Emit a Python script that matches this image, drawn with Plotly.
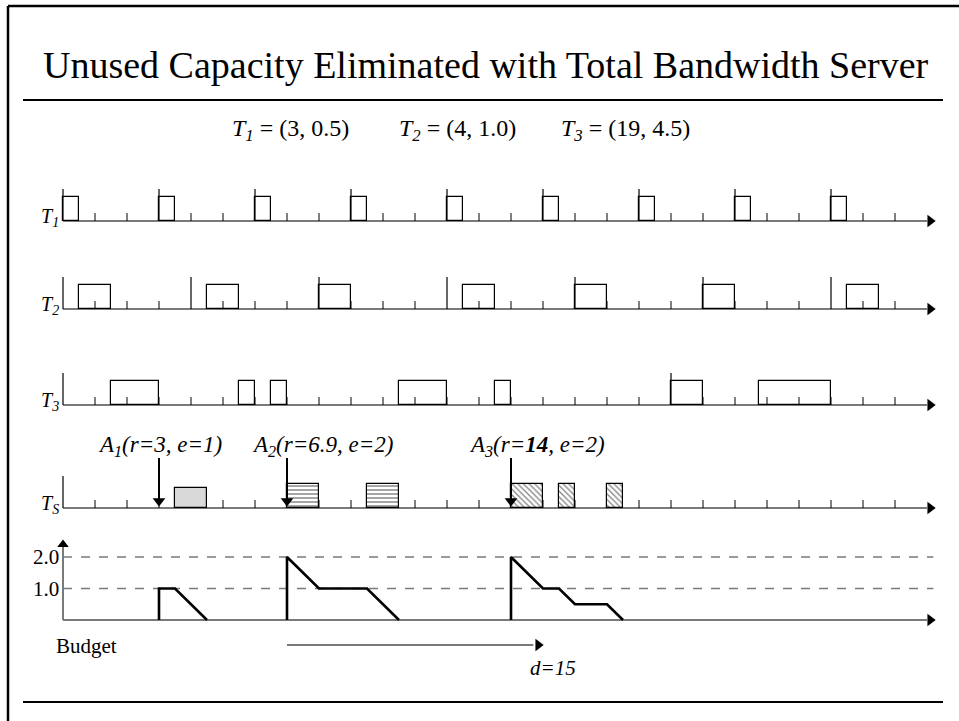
import plotly.graph_objects as go

# ---------------- data ----------------
task_names = ["T1", "T2", "T3"]
task_periods = [3, 4, 19]
task_costs = [0.5, 1.0, 4.5]

t1_release = [0, 3, 6, 9, 12, 15, 18, 21, 24]
t1_start = [0, 3, 6, 9, 12, 15, 18, 21, 24]
t1_end = [0.5, 3.5, 6.5, 9.5, 12.5, 15.5, 18.5, 21.5, 24.5]

t2_release = [0, 4, 8, 12, 16, 20, 24]
t2_start = [0.5, 4.5, 8, 12.5, 16, 20, 24.5]
t2_end = [1.5, 5.5, 9, 13.5, 17, 21, 25.5]

t3_release = [0, 19]
t3_start = [1.5, 5.5, 6.5, 10.5, 13.5, 19, 21.75]
t3_end = [3, 6, 7, 12, 14, 20, 24]

ts_release = [0]
aper_names = ["A1", "A2", "A3"]
aper_r_text = ["3", "6.9", "14"]
aper_e = [1, 2, 2]
aper_arrival = [3, 7, 14]
a1_start, a1_end = [3.5], [4.5]
a2_start, a2_end = [7, 9.5], [8, 10.5]
a3_start, a3_end = [14, 15.5, 17], [15, 16, 17.5]

budget_t = [[3, 3, 3.5, 4.5], [7, 7, 8, 9.5, 10.5], [14, 14, 15, 15.5, 16, 17, 17.5]]
budget_v = [[0, 1, 1, 0], [0, 2, 1, 1, 0], [0, 2, 1, 1, 0.5, 0.5, 0]]
budget_levels = [1.0, 2.0]
deadline_from, deadline_to = 7, 15
t_max = 26

# ---------------- layout constants ----------------
W, H = 959, 721
X0, U = 63, 32          # pixel of t=0, pixels per time unit
ROW_Y = {"T1": 221, "T2": 309, "T3": 405, "TS": 508}
BUD_Y0, BUD_U = 620, 31.5
AX_END = 27.0
GRAY = "#7a7a7a"
SERIF = "Liberation Serif"


def tx(px):
    return (px - X0) / U


fig = go.Figure()
shapes = []
annotations = []


def hline(x0, x1, y, color=GRAY, width=2, dash=None, yref="y", layer="below"):
    shapes.append(dict(type="line", xref="x", yref=yref, x0=x0, x1=x1, y0=y, y1=y,
                       line=dict(color=color, width=width, dash=dash), layer=layer))


def vline(x, y0, y1, color="black", width=1, yref="y", layer="below"):
    shapes.append(dict(type="line", xref="x", yref=yref, x0=x, x1=x, y0=y0, y1=y1,
                       line=dict(color=color, width=width), layer=layer))


arrow_x, arrow_y, arrow_sym = [], [], []


def timeline(row, releases):
    y = ROW_Y[row]
    hline(0, AX_END, y)
    for t in range(0, t_max + 1):
        if t in releases:
            vline(t, y, y - 32, color="black", width=1.2)
        else:
            vline(t, y, y - 8, color="black", width=1)
    arrow_x.append(AX_END + 0.1)
    arrow_y.append(y)
    arrow_sym.append("triangle-right")


timeline("T1", t1_release)
timeline("T2", t2_release)
timeline("T3", t3_release)
timeline("TS", ts_release)


def boxes(starts, ends, row, h, fill="rgba(0,0,0,0)", pattern=None):
    y = ROW_Y[row]
    marker = dict(color=fill, line=dict(color="black", width=1.2))
    if pattern:
        marker["pattern"] = pattern
    fig.add_trace(go.Bar(
        x=[(s + e) / 2 for s, e in zip(starts, ends)],
        width=[e - s for s, e in zip(starts, ends)],
        base=[y] * len(starts), y=[-h] * len(starts),
        marker=marker, hoverinfo="skip", showlegend=False))


boxes(t1_start, t1_end, "T1", 24)
boxes(t2_start, t2_end, "T2", 24)
boxes(t3_start, t3_end, "T3", 24)
boxes(a1_start, a1_end, "TS", 20, fill="#d9d9d9")
boxes(a2_start, a2_end, "TS", 24, fill="white",
      pattern=dict(shape="-", fgcolor="black", bgcolor="white", size=4, solidity=0.35))
boxes(a3_start, a3_end, "TS", 24, fill="white",
      pattern=dict(shape="\\", fgcolor="black", bgcolor="white", size=4, solidity=0.3))

# arrival arrows
for r in aper_arrival:
    fig.add_trace(go.Scatter(x=[r, r], y=[458, 500], mode="lines",
                             line=dict(color="black", width=2), hoverinfo="skip", showlegend=False))
    arrow_x.append(r)
    arrow_y.append(501)
    arrow_sym.append("triangle-down")

# budget axes
hline(0, AX_END, 0, yref="y2")
arrow_x.append(AX_END + 0.1)
arrow_y.append(BUD_Y0)
arrow_sym.append("triangle-right")
vline(0, 0, 2.35, color=GRAY, width=2, yref="y2")
for lv in budget_levels:
    hline(0, AX_END + 0.2, lv, color=GRAY, width=1.3, dash="dash", yref="y2")
    annotations.append(dict(x=-0.06, y=lv, xref="x", yref="y2", text=f"{lv:.1f}",
                            showarrow=False, xanchor="right", yanchor="middle",
                            font=dict(family=SERIF, size=21, color="black")))

for bt, bv in zip(budget_t, budget_v):
    fig.add_trace(go.Scatter(x=bt, y=bv, yaxis="y2", mode="lines",
                             line=dict(color="black", width=2.6), hoverinfo="skip",
                             showlegend=False))

# deadline arrow
hline(deadline_from, deadline_to - 0.3, 645, color=GRAY, width=2)
arrow_x.append(deadline_to - 0.15)
arrow_y.append(645)
arrow_sym.append("triangle-right")

# arrow heads
fig.add_trace(go.Scatter(x=arrow_x, y=arrow_y, mode="markers",
                         marker=dict(symbol=arrow_sym, size=11, color="black",
                                     line=dict(width=0)),
                         hoverinfo="skip", showlegend=False))
fig.add_trace(go.Scatter(x=[0], y=[2.4], yaxis="y2", mode="markers",
                         marker=dict(symbol="triangle-up", size=10, color="black", line=dict(width=0)),
                         hoverinfo="skip", showlegend=False))

# ---------------- text ----------------
annotations.append(dict(x=tx(486), y=65, xref="x", yref="y",
                        text="Unused Capacity Eliminated with Total Bandwidth Server",
                        showarrow=False, xanchor="center", yanchor="middle",
                        font=dict(family=SERIF, size=38, color="black")))

sub_x = [230, 397, 559]
for name, p, c, sx in zip(task_names, task_periods, task_costs, sub_x):
    annotations.append(dict(x=tx(sx), y=130, xref="x", yref="y",
                            text=f"<i>{name[0]}</i><sub><i>{name[1:]}</i></sub> = ({p}, {c:.1f})",
                            showarrow=False, xanchor="left", yanchor="middle",
                            font=dict(family=SERIF, size=24, color="black")))

for row in ["T1", "T2", "T3", "TS"]:
    sub = row[1:] if row != "TS" else "S"
    annotations.append(dict(x=tx(61), y=ROW_Y[row] - 4, xref="x", yref="y",
                            text=f"<i>T</i><sub><i>{sub}</i></sub>",
                            showarrow=False, xanchor="right", yanchor="middle",
                            font=dict(family=SERIF, size=20, color="black")))

a_cx = [160, 322, 537]
for nm, rt, e, cx in zip(aper_names, aper_r_text, aper_e, a_cx):
    rt_txt = f"<b>{rt}</b>" if nm == "A3" else rt
    annotations.append(dict(x=tx(cx), y=446, xref="x", yref="y",
                            text=f"<i>A<sub>{nm[1:]}</sub>(r={rt_txt}, e={e})</i>",
                            showarrow=False, xanchor="center", yanchor="middle",
                            font=dict(family=SERIF, size=23, color="black")))

annotations.append(dict(x=tx(86), y=646, xref="x", yref="y", text="Budget",
                        showarrow=False, xanchor="center", yanchor="middle",
                        font=dict(family=SERIF, size=21, color="black")))
annotations.append(dict(x=tx(553), y=668, xref="x", yref="y", text="<i>d=15</i>",
                        showarrow=False, xanchor="center", yanchor="middle",
                        font=dict(family=SERIF, size=21, color="black")))

# frame lines (paper)
def pline(x0, y0, x1, y1, w):
    shapes.append(dict(type="line", xref="paper", yref="paper",
                       x0=x0 / W, x1=x1 / W, y0=1 - y0 / H, y1=1 - y1 / H,
                       line=dict(color="black", width=w), layer="above"))

pline(8, 6, 959, 6, 2.5)
pline(8, 6, 8, 721, 2.5)
pline(23, 100, 943, 100, 2)
pline(23, 702, 943, 702, 2)

fig.update_layout(
    width=W, height=H, margin=dict(l=0, r=0, t=0, b=0),
    paper_bgcolor="white", plot_bgcolor="white",
    barmode="overlay", bargap=0,
    xaxis=dict(range=[tx(0), tx(W)], visible=False, fixedrange=True),
    yaxis=dict(range=[H, 0], visible=False, fixedrange=True),
    yaxis2=dict(range=[(BUD_Y0 - H) / BUD_U, BUD_Y0 / BUD_U], overlaying="y",
                visible=False, fixedrange=True),
    shapes=shapes, annotations=annotations, showlegend=False,
)

fig.write_html("out.html", config={"displayModeBar": False},
               post_script="document.body.style.margin='0';document.body.style.overflow='hidden';")
